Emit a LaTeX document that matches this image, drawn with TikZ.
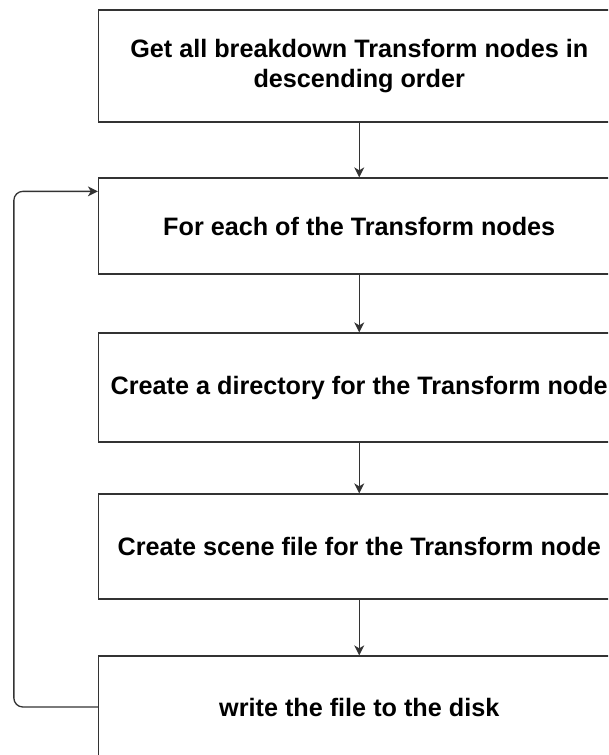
\documentclass[tikz,border=0pt]{standalone}
\usepackage{fontspec}
\setmainfont{Liberation Sans}
\usetikzlibrary{arrows.meta,calc}
\definecolor{linecol}{HTML}{333333}
\begin{document}
\begin{tikzpicture}[x=1pt,y=-1pt,
  stepbox/.style={draw=linecol,line width=1.3pt,fill=white,inner sep=0pt,
    font=\bfseries\fontsize{25.2}{30}\selectfont,align=center},
  flow/.style={draw=linecol,line width=1.3pt,
    -{Stealth[length=10pt,width=10pt,inset=3pt]}}]
  \useasboundingbox (0,0) rectangle (608,755);
  \clip (0,0) rectangle (608,755);
  \fill[white] (0,0) rectangle (608,755);

  % process boxes (right edges run past the page)
  \node[stepbox,minimum width=521.5pt,minimum height=112pt] (b1) at (359.25,66)
    {Get all breakdown Transform nodes in\\descending order};
  \node[stepbox,minimum width=521.5pt,minimum height=96pt] (b2) at (359.25,226)
    {For each of the Transform nodes};
  \node[stepbox,minimum width=521.5pt,minimum height=109pt] (b3) at (359.25,387.5)
    {Create a directory for the Transform node};
  \node[stepbox,minimum width=521.5pt,minimum height=105pt] (b4) at (359.25,546.5)
    {Create scene file for the Transform node};
  \node[stepbox,minimum width=521.5pt,minimum height=102pt] (b5) at (359.25,707)
    {write the file to the disk};

  % main flow
  \draw[flow] (b1.south) -- (b2.north);
  \draw[flow] (b2.south) -- (b3.north);
  \draw[flow] (b3.south) -- (b4.north);
  \draw[flow] (b4.south) -- (b5.north);

  % loop back to the iteration step
  \coordinate (loopin) at ([yshift=-14pt]b2.north west);
  \draw[flow,rounded corners=9pt] (b5.west) -- ++(-84,0) |- (loopin);
\end{tikzpicture}
\end{document}
